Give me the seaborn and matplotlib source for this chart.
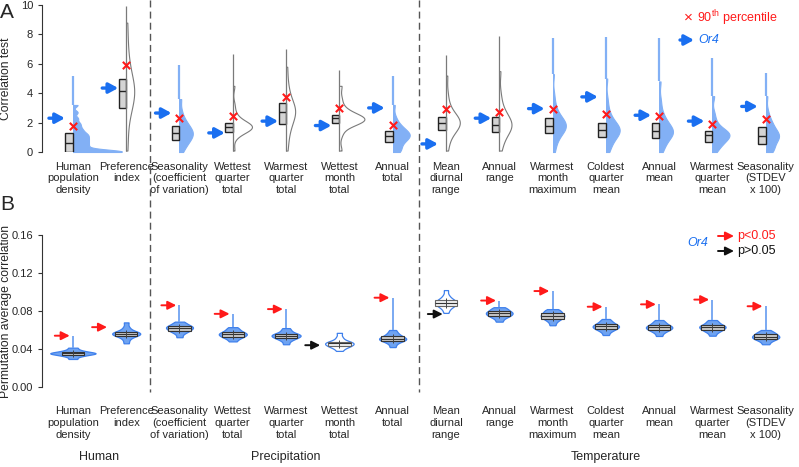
import numpy as np
import pandas as pd
import matplotlib.pyplot as plt
import matplotlib.patches as mpatches
import seaborn as sns
from matplotlib.lines import Line2D
from matplotlib.transforms import blended_transform_factory

sns.set_style('ticks')
plt.rcParams['font.family'] = ['Liberation Sans', 'DejaVu Sans']
plt.rcParams['mathtext.fontset'] = 'custom'
plt.rcParams['mathtext.rm'] = 'Liberation Sans'
plt.rcParams['mathtext.it'] = 'Liberation Sans:italic'

cats = ['Human\npopulation\ndensity', 'Preference\nindex', 'Seasonality\n(coefficient\nof variation)',
        'Wettest\nquarter\ntotal', 'Warmest\nquarter\ntotal', 'Wettest\nmonth\ntotal', 'Annual\ntotal',
        'Mean\ndiurnal\nrange', 'Annual\nrange', 'Warmest\nmonth\nmaximum', 'Coldest\nquarter\nmean',
        'Annual\nmean', 'Warmest\nquarter\nmean', 'Seasonality\n(STDEV\nx 100)']
groups = ['Human', 'Precipitation', 'Temperature']
group_centers = [0.5, 4, 10]

# panel A: correlation test
a_q1 = [0.0, 3.0, 0.8, 1.35, 1.9, 2.0, 0.7, 1.5, 1.35, 1.3, 1.0, 0.95, 0.7, 0.55]
a_med = [0.6, 4.15, 1.3, 1.7, 2.7, 2.3, 1.1, 2.0, 1.85, 1.8, 1.5, 1.4, 1.15, 1.1]
a_q3 = [1.3, 5.0, 1.8, 2.0, 3.3, 2.5, 1.4, 2.4, 2.4, 2.3, 2.0, 2.0, 1.45, 1.7]
a_p90 = [1.8, 5.9, 2.3, 2.45, 3.75, 3.0, 1.85, 2.9, 2.7, 2.9, 2.6, 2.45, 1.9, 2.25]
a_or4 = [2.3, 4.35, 2.65, 1.3, 2.1, 1.8, 3.0, 0.55, 2.3, 2.95, 3.75, 2.5, 2.1, 3.1]
a_max = [5.2, 9.9, 5.9, 6.7, 7.0, 5.6, 5.2, 6.6, 7.9, 7.75, 7.8, 7.75, 6.4, 5.4]
a_samples = [
    [0.0, 0.0, 0.0, 0.01, 0.01, 0.02, 0.02, 0.03, 0.04, 0.05, 0.2, 0.3, 0.4, 0.5, 0.6, 0.7, 0.8, 0.9,
     1.0, 1.1, 1.2, 1.3, 1.45, 1.6, 1.8, 2.0, 2.3, 2.7, 3.2],
    [0.1, 1.2, 2.3, 2.8, 3.0, 3.3, 3.6, 3.8, 4.0, 4.1, 4.2, 4.4, 4.6, 4.8, 5.1, 5.4, 5.9, 6.5, 7.5, 8.8],
    [0.0, 0.3, 0.5, 0.65, 0.8, 0.9, 1.0, 1.1, 1.2, 1.3, 1.35, 1.45, 1.55, 1.65, 1.8, 1.95, 2.1, 2.35, 2.8, 3.6],
    [0.1, 1.0, 1.3, 1.4, 1.5, 1.55, 1.6, 1.65, 1.7, 1.7, 1.75, 1.8, 1.85, 1.9, 2.0, 2.1, 2.3, 2.6, 3.2, 4.5],
    [0.1, 0.8, 1.3, 1.7, 1.9, 2.1, 2.3, 2.5, 2.6, 2.7, 2.8, 2.9, 3.0, 3.15, 3.3, 3.5, 3.8, 4.2, 4.8, 5.8],
    [0.1, 1.2, 1.7, 1.9, 2.0, 2.05, 2.1, 2.15, 2.2, 2.25, 2.3, 2.3, 2.35, 2.4, 2.5, 2.6, 2.8, 3.0, 3.6, 4.5],
    [0.0, 0.05, 0.15, 0.4, 0.6, 0.75, 0.85, 0.95, 1.05, 1.1, 1.15, 1.25, 1.3, 1.4, 1.5, 1.65, 1.8, 2.0, 2.4, 3.2],
    [0.1, 0.7, 1.1, 1.4, 1.5, 1.6, 1.75, 1.85, 1.95, 2.0, 2.05, 2.15, 2.25, 2.35, 2.45, 2.6, 2.9, 3.3, 4.0, 5.2],
    [0.1, 0.6, 0.9, 1.2, 1.35, 1.5, 1.6, 1.7, 1.8, 1.85, 1.9, 2.0, 2.15, 2.3, 2.4, 2.55, 2.8, 3.2, 3.9, 5.5],
    [0.0, 0.5, 0.9, 1.1, 1.3, 1.45, 1.55, 1.65, 1.75, 1.8, 1.85, 1.95, 2.05, 2.2, 2.3, 2.5, 2.8, 3.2, 3.9, 5.3],
    [0.0, 0.3, 0.6, 0.85, 1.0, 1.15, 1.25, 1.35, 1.45, 1.5, 1.55, 1.65, 1.75, 1.9, 2.0, 2.2, 2.5, 2.9, 3.6, 5.0],
    [0.0, 0.3, 0.55, 0.8, 0.95, 1.1, 1.2, 1.3, 1.35, 1.4, 1.45, 1.55, 1.7, 1.85, 2.0, 2.15, 2.4, 2.8, 3.5, 4.8],
    [0.0, 0.25, 0.45, 0.6, 0.7, 0.8, 0.9, 1.0, 1.1, 1.15, 1.2, 1.25, 1.3, 1.4, 1.45, 1.6, 1.8, 2.1, 2.6, 3.8],
    [0.0, 0.05, 0.1, 0.3, 0.55, 0.7, 0.85, 0.95, 1.05, 1.1, 1.15, 1.25, 1.35, 1.5, 1.7, 1.85, 2.05, 2.3, 2.8, 3.8],
]
# widest point of each half violin (category units) and kde smoothing
a_peak = [0.92, 0.15, 0.25, 0.36, 0.17, 0.47, 0.32, 0.26, 0.23, 0.25, 0.26, 0.26, 0.32, 0.25]
a_bw = [0.3, 0.8, 0.7, 0.7, 0.8, 0.7, 0.7, 0.8, 0.8, 0.7, 0.7, 0.7, 0.7, 0.7]

# panel B: permutation average correlation
b_obs = [0.054, 0.063, 0.086, 0.077, 0.082, 0.044, 0.094, 0.0768, 0.091, 0.101, 0.0845, 0.087, 0.092, 0.085]
b_sig = [True, True, True, True, True, False, True, False, True, True, True, True, True, True]
b_samples = [
    [0.0295, 0.0320, 0.0333, 0.0340, 0.0347, 0.0352, 0.0355, 0.0358, 0.0363, 0.0370, 0.0378, 0.0392, 0.0414],
    [0.046, 0.050, 0.053, 0.054, 0.055, 0.0556, 0.0562, 0.0568, 0.0575, 0.058, 0.060, 0.063, 0.068],
    [0.0524, 0.056, 0.0582, 0.059, 0.0602, 0.0612, 0.062, 0.0628, 0.0635, 0.0642, 0.0655, 0.0668, 0.0688],
    [0.048, 0.0505, 0.0522, 0.053, 0.0540, 0.0550, 0.0556, 0.0562, 0.0572, 0.058, 0.0595, 0.061, 0.063],
    [0.045, 0.0485, 0.0505, 0.0515, 0.0525, 0.0533, 0.054, 0.0547, 0.0553, 0.056, 0.0575, 0.0595, 0.062],
    [0.038, 0.041, 0.0425, 0.0432, 0.0442, 0.0451, 0.0458, 0.0464, 0.047, 0.0477, 0.0495, 0.0525, 0.057],
    [0.042, 0.0455, 0.0478, 0.0487, 0.0496, 0.0503, 0.051, 0.0517, 0.0527, 0.0537, 0.0553, 0.0572, 0.060],
    [0.078, 0.082, 0.0845, 0.0856, 0.0868, 0.0878, 0.0888, 0.0896, 0.0906, 0.0916, 0.0935, 0.0965, 0.102],
    [0.0688, 0.0718, 0.0738, 0.0747, 0.0757, 0.0767, 0.0775, 0.0782, 0.079, 0.080, 0.0812, 0.0825, 0.084],
    [0.065, 0.0685, 0.0708, 0.072, 0.0731, 0.0741, 0.075, 0.0758, 0.0768, 0.078, 0.0793, 0.0805, 0.082],
    [0.0547, 0.058, 0.0600, 0.061, 0.0621, 0.063, 0.0637, 0.0644, 0.0653, 0.0663, 0.0677, 0.0693, 0.0716],
    [0.0537, 0.057, 0.059, 0.060, 0.0611, 0.062, 0.0627, 0.0634, 0.0643, 0.0653, 0.0667, 0.0683, 0.0705],
    [0.054, 0.0572, 0.0591, 0.060, 0.0612, 0.0622, 0.063, 0.0636, 0.0645, 0.0653, 0.0668, 0.0685, 0.0705],
    [0.045, 0.0478, 0.0496, 0.0505, 0.0515, 0.0523, 0.053, 0.0538, 0.0547, 0.0558, 0.0568, 0.058, 0.060],
]

BLUE_A = '#82b0f5'
BLUE_B = '#6fa3f1'
BLUE_EDGE = '#3f80ec'
ARROW_BLUE = '#1a6ff0'
RED = '#ff1a1a'
GREY = '#7a7a7a'

W, H = 799, 467
def fx(px):
    return px / W
def fy(py):
    return 1 - py / H

fig = plt.figure(figsize=(7.99, 4.67), dpi=100)
axA = fig.add_axes([fx(42), fy(152), fx(753), 147 / H])
axB = fig.add_axes([fx(42), fy(387), fx(753), 152 / H])
pos = np.arange(len(cats))

# ---------------- panel A ----------------
a_blue = [o > p for o, p in zip(a_or4, a_p90)]
for i, (c, s) in enumerate(zip(cats, a_samples)):
    sns.violinplot(x=[c] * len(s), y=s, order=cats, inner=None, cut=0, density_norm='width',
                   width=2 * a_peak[i], bw_adjust=a_bw[i], saturation=1,
                   color=BLUE_A if a_blue[i] else 'white',
                   linecolor=BLUE_A if a_blue[i] else GREY, linewidth=0.8, ax=axA)
    # keep only the right half of the violin
    coll = axA.collections[-1]
    coll.set_clip_path(mpatches.Rectangle((i, -1), 1.5, 12, transform=axA.transData))
    if a_blue[i]:
        axA.vlines(i, max(s), a_max[i], color=BLUE_A, lw=1.6, zorder=1)
    else:
        axA.vlines(i, min(s), a_max[i], color=GREY, lw=0.9, zorder=3)

stats = [dict(med=m, q1=q1, q3=q3, whislo=q1, whishi=q3)
         for m, q1, q3 in zip(a_med, a_q1, a_q3)]
axA.bxp(stats, positions=pos - 0.07, widths=0.14, showfliers=False, showcaps=False,
        patch_artist=True, manage_ticks=False,
        boxprops=dict(facecolor='#d4d4d4', edgecolor='#222222', lw=1.0),
        medianprops=dict(color='#222222', lw=1.0), whiskerprops=dict(lw=0))
axA.scatter(pos, a_p90, marker='x', color=RED, s=28, lw=1.5, zorder=6)
for i, v in enumerate(a_or4):
    axA.annotate('', xy=(i - 0.15, v), xytext=(i - 0.45, v),
                 arrowprops=dict(arrowstyle='-|>,head_length=0.55,head_width=0.3',
                                 color=ARROW_BLUE, lw=2.4, shrinkA=0, shrinkB=0,
                                 mutation_scale=10), zorder=6)

axA.set_ylim(0, 10)
axA.set_yticks([0, 2, 4, 6, 8, 10])
axA.set_ylabel('Correlation test', fontsize=8.7)

# ---------------- panel B ----------------
dfb = pd.DataFrame([(c, v) for c, s in zip(cats, b_samples) for v in s], columns=['cat', 'val'])
sns.violinplot(data=dfb, x='cat', y='val', order=cats, inner=None, cut=0,
               density_norm='area', width=0.85, bw_adjust=0.65, color=BLUE_B, saturation=1,
               linecolor=BLUE_EDGE, linewidth=0.9, ax=axB)
for coll, sig in zip(list(axB.collections), b_sig):
    if not sig:
        coll.set_facecolor('white')

for i, s in enumerate(b_samples):
    if b_obs[i] > max(s):
        axB.vlines(i, max(s), b_obs[i], color=BLUE_B, lw=1.3, zorder=1)

b_stats = [dict(med=np.percentile(s, 50), q1=np.percentile(s, 25), q3=np.percentile(s, 75),
                whislo=min(s), whishi=max(s)) for s in b_samples]
bp = axB.bxp(b_stats, positions=pos, widths=0.42, showfliers=False, showcaps=False,
             patch_artist=True, manage_ticks=False,
             boxprops=dict(facecolor='#c9c9c9', edgecolor='#333333', lw=0.8),
             medianprops=dict(color='#333333', lw=0.8), whiskerprops=dict(lw=0))
for box, sig in zip(bp['boxes'], b_sig):
    if not sig:
        box.set_facecolor('#efefef')
        box.set_edgecolor('#666666')
for i, st in enumerate(b_stats):
    axB.vlines(i, st['q1'] - 0.002, st['q3'] + 0.002, color='#444444', lw=0.7, zorder=4)

for i, (v, sig) in enumerate(zip(b_obs, b_sig)):
    s = b_samples[i]
    end = i - 0.36 if min(s) <= v <= max(s) else i - 0.06
    axB.annotate('', xy=(end, v), xytext=(end - 0.28, v),
                 arrowprops=dict(arrowstyle='-|>,head_length=0.5,head_width=0.25',
                                 color=RED if sig else '#111111', lw=1.4, shrinkA=0, shrinkB=0,
                                 mutation_scale=10), zorder=6)

axB.set_ylim(0, 0.16)
axB.set_yticks([0, 0.04, 0.08, 0.12, 0.16])
axB.set_yticklabels(['0.00', '0.04', '0.08', '0.12', '0.16'])
axB.set_ylabel('Permutation average correlation', fontsize=8.7)

for ax, pad in [(axA, 7), (axB, 14)]:
    ax.set_xlim(-0.58, 13.55)
    ax.set_xticks(pos)
    ax.set_xticklabels(cats, fontsize=8, linespacing=1.2)
    ax.set_xlabel('')
    ax.tick_params(axis='x', length=0, pad=pad)
    ax.tick_params(axis='y', labelsize=8, length=3, width=0.8, color='#333333')
    sns.despine(ax=ax, bottom=True)
    ax.spines['left'].set_color('#333333')
    ax.spines['left'].set_linewidth(0.8)
    ax.yaxis.set_label_coords(-0.04, 0.5)

# group labels
gtrans = blended_transform_factory(axB.transData, fig.transFigure)
for g, c in zip(groups, group_centers):
    fig.text(c, fy(457), g, transform=gtrans, ha='center', va='center', fontsize=9)

# dashed separators
for xsep in [1.45, 6.5]:
    fig.add_artist(Line2D([xsep, xsep], [fy(0), fy(392)], transform=gtrans,
                          ls=(0, (5, 3)), color='#555555', lw=1.0))

# panel letters
fig.text(fx(0), fy(12), 'A', fontsize=15, va='center', ha='left')
fig.text(fx(0), fy(204), 'B', fontsize=15, va='center', ha='left')

# legend panel A
fig.text(fx(684), fy(18), '\u00d7', color=RED, fontsize=11, va='center', ha='left')
fig.text(fx(697), fy(18), r'90$^{\rm th}$ percentile', color=RED, fontsize=9, va='center', ha='left')
axA.annotate('', xy=(fx(694), fy(40)), xytext=(fx(680), fy(40)), xycoords='figure fraction',
             textcoords='figure fraction',
             arrowprops=dict(arrowstyle='-|>,head_length=0.55,head_width=0.3', color=ARROW_BLUE,
                             lw=2.4, shrinkA=0, shrinkB=0, mutation_scale=10))
fig.text(fx(698), fy(40), 'Or4', color=ARROW_BLUE, fontsize=9, style='italic', va='center', ha='left')

# legend panel B
fig.text(fx(687), fy(243), 'Or4', color=ARROW_BLUE, fontsize=9, style='italic', va='center', ha='left')
for yy, col, lab in [(236, RED, 'p<0.05'), (251, '#111111', 'p>0.05')]:
    axB.annotate('', xy=(fx(734), fy(yy)), xytext=(fx(718), fy(yy)), xycoords='figure fraction',
                 textcoords='figure fraction',
                 arrowprops=dict(arrowstyle='-|>,head_length=0.5,head_width=0.25', color=col,
                                 lw=1.4, shrinkA=0, shrinkB=0, mutation_scale=10))
    fig.text(fx(737), fy(yy), lab, color=col, fontsize=9, va='center', ha='left')

fig.savefig('out.png', dpi=100)
